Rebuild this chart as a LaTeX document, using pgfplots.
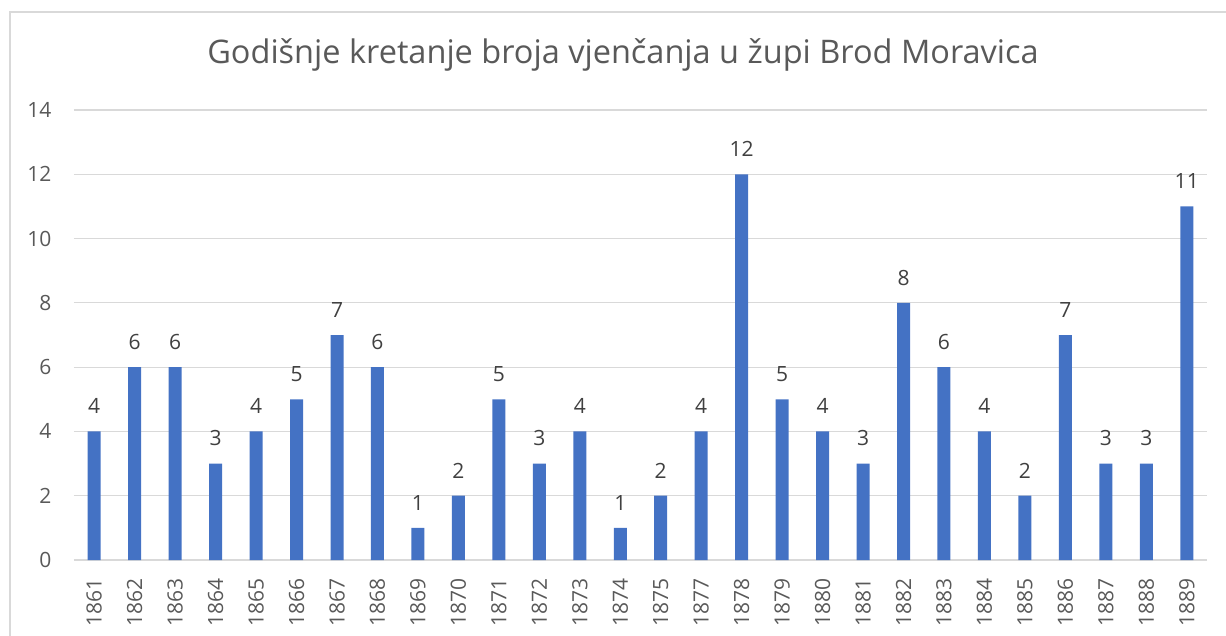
\documentclass[border=0pt]{standalone}
\usepackage{pgfplots}
\pgfplotsset{compat=1.18}
\usepackage{fontspec}
\setmainfont{Open Sans}
\definecolor{barblue}{HTML}{4472C4}
\definecolor{gridgray}{HTML}{D9D9D9}
\definecolor{txtgray}{HTML}{595959}
\definecolor{lblgray}{HTML}{404040}
\begin{document}
\begin{tikzpicture}[x=1pt,y=1pt]
\path[use as bounding box] (-74,-75) rectangle (1152,560);
\draw[gridgray, line width=1.2pt] (-64,-80) -- (-64,548) -- (1160,548);
\begin{axis}[
  at={(0,0)}, anchor=south west,
  scale only axis, width=1133pt, height=450pt,
  ybar, bar width=13pt,
  xmin=-0.5, xmax=27.5, ymin=0, ymax=14,
  ytick={0,2,...,14},
  xtick=data,
  xticklabels={1861,1862,1863,1864,1865,1866,1867,1868,1869,1870,1871,1872,1873,1874,1875,1877,1878,1879,1880,1881,1882,1883,1884,1885,1886,1887,1888,1889},
  axis line style={draw=none},
  major tick length=0pt,
  ymajorgrids, grid style={gridgray, line width=1.2pt},
  /pgf/number format/assume math mode=true,
  yticklabel style={font=\fontsize{21}{25}\selectfont, text=txtgray, anchor=east, xshift=-19pt},
  xticklabel style={font=\fontsize{21}{25}\selectfont, text=txtgray, rotate=90, anchor=east, xshift=-15pt},
  nodes near coords,
  every node near coord/.append style={font=\fontsize{21}{25}\selectfont, text=lblgray, anchor=south, yshift=14pt},
  clip=false,
]
\addplot[fill=barblue, draw=none] coordinates {
(0,4) (1,6) (2,6) (3,3) (4,4) (5,5) (6,7) (7,6) (8,1) (9,2) (10,5) (11,3) (12,4) (13,1) (14,2)
(15,4) (16,12) (17,5) (18,4) (19,3) (20,8) (21,6) (22,4) (23,2) (24,7) (25,3) (26,3) (27,11)
};
\end{axis}
\node[text=txtgray, font=\fontsize{32.5}{38}\selectfont] at (549,505) {Godišnje kretanje broja vjenčanja u župi Brod Moravica};
\end{tikzpicture}
\end{document}
